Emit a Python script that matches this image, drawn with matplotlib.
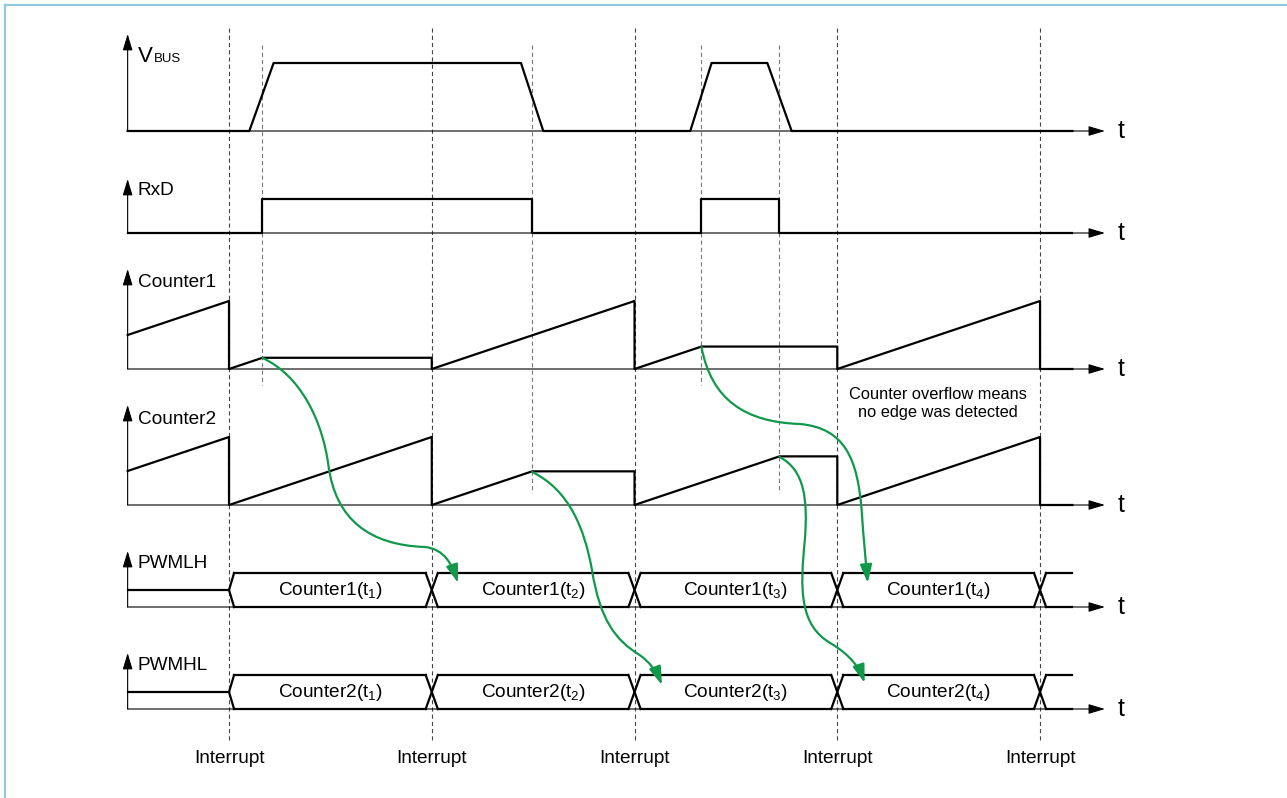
import matplotlib.pyplot as plt
from matplotlib.patches import FancyArrowPatch
from matplotlib.path import Path
from matplotlib.lines import Line2D

plt.rcParams['font.family'] = ['Liberation Sans', 'DejaVu Sans']
plt.rcParams['mathtext.fontset'] = 'custom'
plt.rcParams['mathtext.rm'] = 'Liberation Sans'
plt.rcParams['mathtext.it'] = 'Liberation Sans'
plt.rcParams['lines.scale_dashes'] = False

# time axis: one interrupt period = 200 units
interrupt_t = [200, 400, 600, 800, 1000]
t_start, t_end, t_arrow = 100, 1032, 1064

vbus_t = [100, 220, 244, 488, 510, 655, 676, 731, 755, 1032]
vbus_v = [0, 0, 1, 1, 0, 0, 1, 1, 0, 0]

rxd_t = [100, 233, 233, 499, 499, 666, 666, 743, 743, 1032]
rxd_v = [0, 0, 1, 1, 0, 0, 1, 1, 0, 0]

# counter1 holds at rising RxD edge, counter2 at falling edge
counter1_t = [100, 200, 200, 233, 400, 400, 600, 600, 666, 800, 800, 1000, 1000, 1032]
counter1_v = [100, 200, 0, 33, 33, 0, 200, 0, 66, 66, 0, 200, 0, 0]
counter2_t = [100, 200, 200, 400, 400, 499, 600, 600, 743, 800, 800, 1000, 1000, 1032]
counter2_v = [100, 200, 0, 200, 0, 99, 99, 0, 143, 143, 0, 200, 0, 0]

rise_edges = [233, 666]
fall_edges = [499, 743]

pwmlh_labels = ["Counter1(t$_1$)", "Counter1(t$_2$)", "Counter1(t$_3$)", "Counter1(t$_4$)"]
pwmhl_labels = ["Counter2(t$_1$)", "Counter2(t$_2$)", "Counter2(t$_3$)", "Counter2(t$_4$)"]

# green capture arrows (cubic bezier control points: time, y)
capture_arrows = [
    [(233, 358), (270, 375), (292, 420), (298, 465),
     (305, 520), (339, 545), (393, 547),
     (413, 549), (420, 565), (426, 583)],
    [(666, 347), (676, 400), (709, 422), (763, 424),
     (808, 428), (820, 460), (824, 510),
     (826, 540), (828, 560), (830, 583)],
    [(499, 472), (536, 490), (551, 530), (558, 570),
     (566, 620), (581, 640), (605, 655),
     (615, 662), (622, 672), (627, 685)],
    [(743, 457), (768, 470), (771, 500), (768, 540),
     (763, 590), (763, 625), (793, 643),
     (813, 655), (822, 668), (827, 683)],
]

GREEN = '#10994a'
SIG_LW = 1.6
AX_LW = 0.8

fig = plt.figure(figsize=(12.87, 7.98), dpi=100)
ax = fig.add_axes([0, 0, 1, 1])
ax.set_xlim(-25.9, 1243.6)
ax.set_ylim(798, 0)
ax.axis('off')

# light blue frame (left and top)
fig.add_artist(Line2D([5 / 1287, 5 / 1287], [0, 1 - 5 / 798], transform=fig.transFigure,
                      color='#93c9dc', lw=1.6))
fig.add_artist(Line2D([5 / 1287, 1], [1 - 5 / 798, 1 - 5 / 798], transform=fig.transFigure,
                      color='#93c9dc', lw=1.6))


def arrow(p0, p1, lw=AX_LW):
    a = FancyArrowPatch(p0, p1, arrowstyle='-|>,head_length=10,head_width=3',
                        mutation_scale=1, lw=lw, color='black', shrinkA=0, shrinkB=0)
    ax.add_patch(a)


def draw_row(base, tip, label, label_y):
    arrow((t_start, base), (t_start, tip))
    arrow((t_start, base), (t_arrow, base))
    ax.text(1080, base + 7, 't', fontsize=18, ha='center', va='baseline')
    if label is not None:
        ax.text(110, label_y, label, fontsize=13.7, ha='left', va='baseline')


# dashed marker lines
for x in interrupt_t:
    ax.plot([x, x], [28, 740], color='#444444', lw=0.8, ls=(0, (3, 2.2)), zorder=1)
    ax.text(x, 763, 'Interrupt', fontsize=13.7, ha='center', va='baseline')
for x in rise_edges:
    ax.plot([x, x], [45, 385], color='#777777', lw=0.8, ls=(0, (3, 2.2)), zorder=1)
for x in fall_edges:
    ax.plot([x, x], [45, 493], color='#777777', lw=0.8, ls=(0, (3, 2.2)), zorder=1)

# V_BUS
base = 131
draw_row(base, 34, None, None)
ax.text(110, 62, 'V', fontsize=16, ha='left', va='baseline')
ax.text(126, 62, 'BUS', fontsize=9.5, ha='left', va='baseline')
ax.plot(vbus_t, [base - 68 * v for v in vbus_v], color='black', lw=SIG_LW, zorder=3)

# RxD
base = 233
draw_row(base, 179, 'RxD', 195)
ax.plot(rxd_t, [base - 34 * v for v in rxd_v], color='black', lw=SIG_LW, zorder=3)

# Counters
base = 369
draw_row(base, 269, 'Counter1', 287)
ax.plot(counter1_t, [base - 0.34 * v for v in counter1_v], color='black', lw=SIG_LW, zorder=3)

base = 505
draw_row(base, 405, 'Counter2', 424)
ax.plot(counter2_t, [base - 0.34 * v for v in counter2_v], color='black', lw=SIG_LW, zorder=3)

ax.text(899, 399, 'Counter overflow means', fontsize=11.8, ha='center', va='baseline')
ax.text(899, 417, 'no edge was detected', fontsize=11.8, ha='center', va='baseline')


def draw_bus(base, tip, label, label_y, texts):
    draw_row(base, tip, label, label_y)
    h = 34
    top, mid = base - h, base - h / 2
    w0, w = 5, 6
    kw = dict(color='black', lw=SIG_LW, zorder=3)
    x0 = interrupt_t[0]
    ax.plot([t_start, x0], [mid, mid], **kw)
    ax.plot([x0 + w0, x0, x0 + w0], [top, mid, base], **kw)
    for x in interrupt_t[1:]:
        ax.plot([x - w, x + w], [top, base], **kw)
        ax.plot([x - w, x + w], [base, top], **kw)
    lefts = [x0 + w0] + [x + w for x in interrupt_t[1:]]
    rights = [x - w for x in interrupt_t[1:]] + [t_end]
    for a, b in zip(lefts, rights):
        ax.plot([a, b], [top, top], **kw)
        ax.plot([a, b], [base, base], **kw)
    for a, b, s in zip(interrupt_t[:-1], interrupt_t[1:], texts):
        ax.text((a + b) / 2, base - 12, s, fontsize=13.7, ha='center', va='baseline', zorder=4)


draw_bus(607, 551, 'PWMLH', 568, pwmlh_labels)
draw_bus(709, 653, 'PWMHL', 670, pwmhl_labels)

# capture arrows
for pts in capture_arrows:
    codes = [Path.MOVETO] + [Path.CURVE4] * (len(pts) - 1)
    p = FancyArrowPatch(path=Path(pts, codes), arrowstyle='-|>,head_length=11,head_width=3.6',
                        mutation_scale=1, lw=1.6, color=GREEN, zorder=5)
    ax.add_patch(p)

fig.savefig('out.png', dpi=100)
